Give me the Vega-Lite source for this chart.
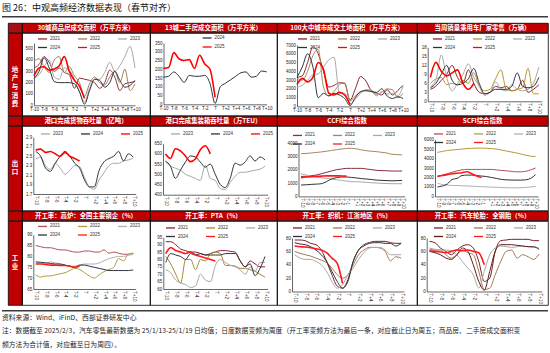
{
"$schema": "https://vega.github.io/schema/vega-lite/v6.json",
"padding": {"left": 2, "top": 3, "right": 0, "bottom": 0},
"config": {
 "view": {"stroke": null},
 "font": "Noto Sans CJK SC",
 "axis": {"grid": false, "ticks": false, "labelFontSize": 4.5, "labelFont": "Liberation Sans", "labelColor": "#222", "domainColor": "#000", "domainWidth": 0.6, "labelPadding": 1.5, "labelFlush": false, "labelOverlap": false, "labelBound": false},
 "legend": {"orient": "none", "direction": "horizontal", "symbolType": "stroke", "symbolSize": 81, "symbolStrokeWidth": 1.3, "labelFontSize": 4.5, "labelFont": "Liberation Sans", "labelColor": "#333", "labelOffset": 2, "columnPadding": 14, "rowPadding": -3.5, "padding": 0, "columns": 3},
 "line": {"interpolate": "monotone"}
},
"datasets": {
 "r1p1": [
{"s":"2021","t":-10,"v":330},{"s":"2021","t":-9,"v":360},{"s":"2021","t":-8,"v":430},{"s":"2021","t":-7,"v":380},{"s":"2021","t":-6,"v":300},{"s":"2021","t":-5,"v":330},{"s":"2021","t":-4,"v":290},{"s":"2021","t":-3,"v":270},{"s":"2021","t":-2,"v":150},{"s":"2021","t":-1,"v":240},{"s":"2021","t":0,"v":230},{"s":"2021","t":1,"v":220},{"s":"2021","t":2,"v":200},{"s":"2021","t":3,"v":150},{"s":"2021","t":4,"v":200},{"s":"2021","t":5,"v":310},{"s":"2021","t":6,"v":250},{"s":"2021","t":7,"v":130},{"s":"2021","t":8,"v":190},{"s":"2021","t":9,"v":200},{"s":"2021","t":10,"v":210},
{"s":"2022","t":-10,"v":390},{"s":"2022","t":-9,"v":410},{"s":"2022","t":-8,"v":340},{"s":"2022","t":-7,"v":290},{"s":"2022","t":-6,"v":400},{"s":"2022","t":-5,"v":430},{"s":"2022","t":-4,"v":290},{"s":"2022","t":-3,"v":340},{"s":"2022","t":-2,"v":260},{"s":"2022","t":-1,"v":200},{"s":"2022","t":0,"v":80},{"s":"2022","t":1,"v":190},{"s":"2022","t":2,"v":250},{"s":"2022","t":3,"v":200},{"s":"2022","t":4,"v":180},{"s":"2022","t":5,"v":250},{"s":"2022","t":6,"v":300},{"s":"2022","t":7,"v":200},{"s":"2022","t":8,"v":320},{"s":"2022","t":9,"v":130},{"s":"2022","t":10,"v":190},
{"s":"2023","t":-10,"v":240},{"s":"2023","t":-9,"v":270},{"s":"2023","t":-8,"v":340},{"s":"2023","t":-7,"v":400},{"s":"2023","t":-6,"v":250},{"s":"2023","t":-5,"v":230},{"s":"2023","t":-4,"v":330},{"s":"2023","t":-3,"v":310},{"s":"2023","t":-2,"v":230},{"s":"2023","t":-1,"v":120},{"s":"2023","t":0,"v":30},{"s":"2023","t":1,"v":150},{"s":"2023","t":2,"v":230},{"s":"2023","t":3,"v":230},{"s":"2023","t":4,"v":290},{"s":"2023","t":5,"v":380},{"s":"2023","t":6,"v":300},{"s":"2023","t":7,"v":350},{"s":"2023","t":8,"v":430},{"s":"2023","t":9,"v":520},{"s":"2023","t":10,"v":330},
{"s":"2024","t":-10,"v":235},{"s":"2024","t":-9,"v":300},{"s":"2024","t":-8,"v":420},{"s":"2024","t":-7,"v":330},{"s":"2024","t":-6,"v":210},{"s":"2024","t":-5,"v":200},{"s":"2024","t":-4,"v":200},{"s":"2024","t":-3,"v":200},{"s":"2024","t":-2,"v":190},{"s":"2024","t":-1,"v":120},{"s":"2024","t":0,"v":10},{"s":"2024","t":1,"v":130},{"s":"2024","t":2,"v":230},{"s":"2024","t":3,"v":220},{"s":"2024","t":4,"v":160},{"s":"2024","t":5,"v":200},{"s":"2024","t":6,"v":300},{"s":"2024","t":7,"v":220},{"s":"2024","t":8,"v":160},{"s":"2024","t":9,"v":175},{"s":"2024","t":10,"v":220},
{"s":"2025","t":-10,"v":260},{"s":"2025","t":-9,"v":330},{"s":"2025","t":-8,"v":340},{"s":"2025","t":-7,"v":310},{"s":"2025","t":-6,"v":320},{"s":"2025","t":-5,"v":350},{"s":"2025","t":-4,"v":430},{"s":"2025","t":-3,"v":300},{"s":"2025","t":-2,"v":220},{"s":"2025","t":-1,"v":170},{"s":"2025","t":0,"v":60}
 ],
 "r1p2": [
{"s":"2024","t":-10,"v":155},{"s":"2024","t":-9,"v":160},{"s":"2024","t":-8,"v":185},{"s":"2024","t":-7,"v":160},{"s":"2024","t":-6,"v":125},{"s":"2024","t":-5,"v":165},{"s":"2024","t":-4,"v":160},{"s":"2024","t":-3,"v":160},{"s":"2024","t":-2,"v":165},{"s":"2024","t":-1,"v":120},{"s":"2024","t":0,"v":5},{"s":"2024","t":1,"v":100},{"s":"2024","t":2,"v":120},{"s":"2024","t":3,"v":140},{"s":"2024","t":4,"v":160},{"s":"2024","t":5,"v":180},{"s":"2024","t":6,"v":185},{"s":"2024","t":7,"v":155},{"s":"2024","t":8,"v":160},{"s":"2024","t":9,"v":190},{"s":"2024","t":10,"v":185},
{"s":"2025","t":-10,"v":205},{"s":"2025","t":-9,"v":210},{"s":"2025","t":-8,"v":295},{"s":"2025","t":-7,"v":260},{"s":"2025","t":-6,"v":250},{"s":"2025","t":-5,"v":255},{"s":"2025","t":-4,"v":205},{"s":"2025","t":-3,"v":280},{"s":"2025","t":-2,"v":230},{"s":"2025","t":-1,"v":200},{"s":"2025","t":0,"v":40}
 ],
 "r1p3": [
{"s":"2021","t":-10,"v":3300},{"s":"2021","t":-9,"v":3500},{"s":"2021","t":-8,"v":5000},{"s":"2021","t":-7,"v":6800},{"s":"2021","t":-6,"v":6000},{"s":"2021","t":-5,"v":4000},{"s":"2021","t":-4,"v":2200},{"s":"2021","t":-3,"v":2400},{"s":"2021","t":-2,"v":2700},{"s":"2021","t":-1,"v":2600},{"s":"2021","t":0,"v":700},{"s":"2021","t":1,"v":2000},{"s":"2021","t":2,"v":3400},{"s":"2021","t":3,"v":2900},{"s":"2021","t":4,"v":1800},{"s":"2021","t":5,"v":1500},{"s":"2021","t":6,"v":1300},{"s":"2021","t":7,"v":1900},{"s":"2021","t":8,"v":1300},{"s":"2021","t":9,"v":1800},{"s":"2021","t":10,"v":2400},
{"s":"2022","t":-10,"v":3200},{"s":"2022","t":-9,"v":3000},{"s":"2022","t":-8,"v":4000},{"s":"2022","t":-7,"v":5800},{"s":"2022","t":-6,"v":6500},{"s":"2022","t":-5,"v":2200},{"s":"2022","t":-4,"v":1200},{"s":"2022","t":-3,"v":1700},{"s":"2022","t":-2,"v":2500},{"s":"2022","t":-1,"v":2700},{"s":"2022","t":0,"v":600},{"s":"2022","t":1,"v":1200},{"s":"2022","t":2,"v":1600},{"s":"2022","t":3,"v":1800},{"s":"2022","t":4,"v":1700},{"s":"2022","t":5,"v":1300},{"s":"2022","t":6,"v":1600},{"s":"2022","t":7,"v":2000},{"s":"2022","t":8,"v":1900},{"s":"2022","t":9,"v":1000},{"s":"2022","t":10,"v":1500},
{"s":"2023","t":-10,"v":2200},{"s":"2023","t":-9,"v":2400},{"s":"2023","t":-8,"v":3000},{"s":"2023","t":-7,"v":3600},{"s":"2023","t":-6,"v":3700},{"s":"2023","t":-5,"v":4500},{"s":"2023","t":-4,"v":5300},{"s":"2023","t":-3,"v":5600},{"s":"2023","t":-2,"v":1500},{"s":"2023","t":-1,"v":1500},{"s":"2023","t":0,"v":300},{"s":"2023","t":1,"v":800},{"s":"2023","t":2,"v":1500},{"s":"2023","t":3,"v":1900},{"s":"2023","t":4,"v":1900},{"s":"2023","t":5,"v":1200},{"s":"2023","t":6,"v":1700},{"s":"2023","t":7,"v":1400},{"s":"2023","t":8,"v":1500},{"s":"2023","t":9,"v":1200},{"s":"2023","t":10,"v":2300},
{"s":"2024","t":-10,"v":3300},{"s":"2024","t":-9,"v":4500},{"s":"2024","t":-8,"v":6000},{"s":"2024","t":-7,"v":4500},{"s":"2024","t":-6,"v":1000},{"s":"2024","t":-5,"v":1500},{"s":"2024","t":-4,"v":1200},{"s":"2024","t":-3,"v":1500},{"s":"2024","t":-2,"v":1300},{"s":"2024","t":-1,"v":900},{"s":"2024","t":0,"v":100},{"s":"2024","t":1,"v":1000},{"s":"2024","t":2,"v":1700},{"s":"2024","t":3,"v":1800},{"s":"2024","t":4,"v":1700},{"s":"2024","t":5,"v":1600},{"s":"2024","t":6,"v":2000},{"s":"2024","t":7,"v":1200},{"s":"2024","t":8,"v":900},{"s":"2024","t":9,"v":1100},{"s":"2024","t":10,"v":900},
{"s":"2025","t":-10,"v":2500},{"s":"2025","t":-9,"v":3200},{"s":"2025","t":-8,"v":2800},{"s":"2025","t":-7,"v":3300},{"s":"2025","t":-6,"v":5000},{"s":"2025","t":-5,"v":4200},{"s":"2025","t":-4,"v":1500},{"s":"2025","t":-3,"v":1300},{"s":"2025","t":-2,"v":1600},{"s":"2025","t":-1,"v":1300},{"s":"2025","t":0,"v":200}
 ],
 "r1p4": [
{"s":"2021","t":-10,"v":4},{"s":"2021","t":-9,"v":5},{"s":"2021","t":-8,"v":7},{"s":"2021","t":-7,"v":9},{"s":"2021","t":-6,"v":12},{"s":"2021","t":-5,"v":8},{"s":"2021","t":-4,"v":6},{"s":"2021","t":-3,"v":10.5},{"s":"2021","t":-2,"v":6},{"s":"2021","t":-1,"v":3},{"s":"2021","t":0,"v":2.5},{"s":"2021","t":1,"v":3},{"s":"2021","t":2,"v":5},{"s":"2021","t":3,"v":4.5},{"s":"2021","t":4,"v":5},{"s":"2021","t":5,"v":3.5},{"s":"2021","t":6,"v":4},{"s":"2021","t":7,"v":7},{"s":"2021","t":8,"v":3},{"s":"2021","t":9,"v":4},{"s":"2021","t":10,"v":5.5},
{"s":"2022","t":-10,"v":6},{"s":"2022","t":-9,"v":7.5},{"s":"2022","t":-8,"v":8},{"s":"2022","t":-7,"v":5.5},{"s":"2022","t":-6,"v":6},{"s":"2022","t":-5,"v":5.5},{"s":"2022","t":-4,"v":7},{"s":"2022","t":-3,"v":6},{"s":"2022","t":-2,"v":9.5},{"s":"2022","t":-1,"v":5},{"s":"2022","t":0,"v":3.5},{"s":"2022","t":1,"v":4},{"s":"2022","t":2,"v":7.5},{"s":"2022","t":3,"v":10.5},{"s":"2022","t":4,"v":4},{"s":"2022","t":5,"v":3.5},{"s":"2022","t":6,"v":4},{"s":"2022","t":7,"v":4.5},{"s":"2022","t":8,"v":11},{"s":"2022","t":9,"v":2.5},{"s":"2022","t":10,"v":2.5},
{"s":"2023","t":-10,"v":5},{"s":"2023","t":-9,"v":7},{"s":"2023","t":-8,"v":15.5},{"s":"2023","t":-7,"v":8},{"s":"2023","t":-6,"v":3.5},{"s":"2023","t":-5,"v":6},{"s":"2023","t":-4,"v":9},{"s":"2023","t":-3,"v":12.5},{"s":"2023","t":-2,"v":8},{"s":"2023","t":-1,"v":5},{"s":"2023","t":0,"v":2},{"s":"2023","t":1,"v":3},{"s":"2023","t":2,"v":6.5},{"s":"2023","t":3,"v":4},{"s":"2023","t":4,"v":3.5},{"s":"2023","t":5,"v":5.5},{"s":"2023","t":6,"v":4},{"s":"2023","t":7,"v":3.5},{"s":"2023","t":8,"v":4},{"s":"2023","t":9,"v":6},{"s":"2023","t":10,"v":11.5},
{"s":"2024","t":-10,"v":4.5},{"s":"2024","t":-9,"v":6},{"s":"2024","t":-8,"v":9},{"s":"2024","t":-7,"v":12},{"s":"2024","t":-6,"v":7},{"s":"2024","t":-5,"v":5.5},{"s":"2024","t":-4,"v":6},{"s":"2024","t":-3,"v":7.5},{"s":"2024","t":-2,"v":11},{"s":"2024","t":-1,"v":6},{"s":"2024","t":0,"v":2.5},{"s":"2024","t":1,"v":3},{"s":"2024","t":2,"v":4},{"s":"2024","t":3,"v":4},{"s":"2024","t":4,"v":4},{"s":"2024","t":5,"v":5},{"s":"2024","t":6,"v":9.5},{"s":"2024","t":7,"v":5},{"s":"2024","t":8,"v":4.5},{"s":"2024","t":9,"v":5},{"s":"2024","t":10,"v":8},
{"s":"2025","t":-10,"v":8},{"s":"2025","t":-9,"v":13},{"s":"2025","t":-8,"v":10},{"s":"2025","t":-7,"v":8.5},{"s":"2025","t":-6,"v":9.5},{"s":"2025","t":-5,"v":10.5},{"s":"2025","t":-4,"v":6},{"s":"2025","t":-3,"v":4},{"s":"2025","t":-2,"v":6}
 ],
 "r2p1": [
{"s":"2023","t":-10,"v":2.44},{"s":"2023","t":-9,"v":2.48},{"s":"2023","t":-8,"v":2.3},{"s":"2023","t":-7,"v":2.22},{"s":"2023","t":-6,"v":2.35},{"s":"2023","t":-5,"v":2.25},{"s":"2023","t":-4,"v":2.12},{"s":"2023","t":-3,"v":2.2},{"s":"2023","t":-2,"v":2.3},{"s":"2023","t":-1,"v":2.28},{"s":"2023","t":0,"v":2.05},{"s":"2023","t":1,"v":1.85},{"s":"2023","t":2,"v":1.8},{"s":"2023","t":3,"v":2.0},{"s":"2023","t":4,"v":2.15},{"s":"2023","t":5,"v":2.3},{"s":"2023","t":6,"v":2.35},{"s":"2023","t":7,"v":2.35},{"s":"2023","t":8,"v":2.4},{"s":"2023","t":9,"v":2.42},{"s":"2023","t":10,"v":2.46},
{"s":"2024","t":-10,"v":2.6},{"s":"2024","t":-9,"v":2.5},{"s":"2024","t":-8,"v":2.25},{"s":"2024","t":-7,"v":2.18},{"s":"2024","t":-6,"v":2.35},{"s":"2024","t":-5,"v":2.5},{"s":"2024","t":-4,"v":2.6},{"s":"2024","t":-3,"v":2.5},{"s":"2024","t":-2,"v":2.35},{"s":"2024","t":-1,"v":2.25},{"s":"2024","t":0,"v":2.0},{"s":"2024","t":1,"v":1.85},{"s":"2024","t":2,"v":1.85},{"s":"2024","t":3,"v":2.2},{"s":"2024","t":4,"v":2.38},{"s":"2024","t":5,"v":2.45},{"s":"2024","t":6,"v":2.5},{"s":"2024","t":7,"v":2.6},{"s":"2024","t":8,"v":2.4},{"s":"2024","t":9,"v":2.55},{"s":"2024","t":10,"v":2.48},
{"s":"2025","t":-10,"v":2.63},{"s":"2025","t":-9,"v":2.65},{"s":"2025","t":-8,"v":2.58},{"s":"2025","t":-7,"v":2.6},{"s":"2025","t":-6,"v":2.55},{"s":"2025","t":-5,"v":2.5},{"s":"2025","t":-4,"v":2.58},{"s":"2025","t":-3,"v":2.5},{"s":"2025","t":-2,"v":2.45},{"s":"2025","t":-1,"v":2.4}
 ],
 "r2p2": [
{"s":"2023","t":-10,"v":560},{"s":"2023","t":-9,"v":540},{"s":"2023","t":-8,"v":530},{"s":"2023","t":-7,"v":520},{"s":"2023","t":-6,"v":500},{"s":"2023","t":-5,"v":490},{"s":"2023","t":-4,"v":480},{"s":"2023","t":-3,"v":470},{"s":"2023","t":-2,"v":545},{"s":"2023","t":-1,"v":480},{"s":"2023","t":0,"v":470},{"s":"2023","t":1,"v":430},{"s":"2023","t":2,"v":425},{"s":"2023","t":3,"v":460},{"s":"2023","t":4,"v":490},{"s":"2023","t":5,"v":510},{"s":"2023","t":6,"v":510},{"s":"2023","t":7,"v":515},{"s":"2023","t":8,"v":520},{"s":"2023","t":9,"v":525},{"s":"2023","t":10,"v":540},
{"s":"2024","t":-10,"v":565},{"s":"2024","t":-9,"v":540},{"s":"2024","t":-8,"v":480},{"s":"2024","t":-7,"v":520},{"s":"2024","t":-6,"v":560},{"s":"2024","t":-5,"v":590},{"s":"2024","t":-4,"v":585},{"s":"2024","t":-3,"v":560},{"s":"2024","t":-2,"v":535},{"s":"2024","t":-1,"v":550},{"s":"2024","t":0,"v":500},{"s":"2024","t":1,"v":450},{"s":"2024","t":2,"v":435},{"s":"2024","t":3,"v":480},{"s":"2024","t":4,"v":555},{"s":"2024","t":5,"v":545},{"s":"2024","t":6,"v":560},{"s":"2024","t":7,"v":590},{"s":"2024","t":8,"v":565},{"s":"2024","t":9,"v":585},{"s":"2024","t":10,"v":570},
{"s":"2025","t":-10,"v":600},{"s":"2025","t":-9,"v":578},{"s":"2025","t":-8,"v":625},{"s":"2025","t":-7,"v":615},{"s":"2025","t":-6,"v":590},{"s":"2025","t":-5,"v":562},{"s":"2025","t":-4,"v":575},{"s":"2025","t":-3,"v":620},{"s":"2025","t":-2,"v":640},{"s":"2025","t":-1,"v":600}
 ],
 "r2p3": [
{"s":"2021","t":-10,"v":1500},{"s":"2021","t":-9,"v":1500},{"s":"2021","t":-8,"v":1550},{"s":"2021","t":-7,"v":1600},{"s":"2021","t":-6,"v":1700},{"s":"2021","t":-5,"v":1800},{"s":"2021","t":-4,"v":1900},{"s":"2021","t":-3,"v":2000},{"s":"2021","t":-2,"v":2050},{"s":"2021","t":-1,"v":2100},{"s":"2021","t":0,"v":2100},{"s":"2021","t":1,"v":2100},{"s":"2021","t":2,"v":2100},{"s":"2021","t":3,"v":2050},{"s":"2021","t":4,"v":2000},{"s":"2021","t":5,"v":1950},{"s":"2021","t":6,"v":1930},{"s":"2021","t":7,"v":1920},{"s":"2021","t":8,"v":1900},{"s":"2021","t":9,"v":1900},{"s":"2021","t":10,"v":1900},
{"s":"2022","t":-10,"v":3200},{"s":"2022","t":-9,"v":3220},{"s":"2022","t":-8,"v":3250},{"s":"2022","t":-7,"v":3290},{"s":"2022","t":-6,"v":3330},{"s":"2022","t":-5,"v":3380},{"s":"2022","t":-4,"v":3440},{"s":"2022","t":-3,"v":3500},{"s":"2022","t":-2,"v":3550},{"s":"2022","t":-1,"v":3590},{"s":"2022","t":0,"v":3600},{"s":"2022","t":1,"v":3560},{"s":"2022","t":2,"v":3480},{"s":"2022","t":3,"v":3420},{"s":"2022","t":4,"v":3380},{"s":"2022","t":5,"v":3350},{"s":"2022","t":6,"v":3300},{"s":"2022","t":7,"v":3250},{"s":"2022","t":8,"v":3150},{"s":"2022","t":9,"v":3130},{"s":"2022","t":10,"v":3100},
{"s":"2023","t":-10,"v":1700},{"s":"2023","t":-9,"v":1600},{"s":"2023","t":-8,"v":1500},{"s":"2023","t":-7,"v":1450},{"s":"2023","t":-6,"v":1400},{"s":"2023","t":-5,"v":1350},{"s":"2023","t":-4,"v":1300},{"s":"2023","t":-3,"v":1250},{"s":"2023","t":-2,"v":1200},{"s":"2023","t":-1,"v":1150},{"s":"2023","t":0,"v":1100},{"s":"2023","t":1,"v":1100},{"s":"2023","t":2,"v":1080},{"s":"2023","t":3,"v":1050},{"s":"2023","t":4,"v":1020},{"s":"2023","t":5,"v":1000},{"s":"2023","t":6,"v":980},{"s":"2023","t":7,"v":960},{"s":"2023","t":8,"v":950},{"s":"2023","t":9,"v":950},{"s":"2023","t":10,"v":950},
{"s":"2024","t":-10,"v":850},{"s":"2024","t":-9,"v":870},{"s":"2024","t":-8,"v":900},{"s":"2024","t":-7,"v":920},{"s":"2024","t":-6,"v":950},{"s":"2024","t":-5,"v":1100},{"s":"2024","t":-4,"v":1300},{"s":"2024","t":-3,"v":1400},{"s":"2024","t":-2,"v":1450},{"s":"2024","t":-1,"v":1450},{"s":"2024","t":0,"v":1420},{"s":"2024","t":1,"v":1380},{"s":"2024","t":2,"v":1330},{"s":"2024","t":3,"v":1300},{"s":"2024","t":4,"v":1260},{"s":"2024","t":5,"v":1220},{"s":"2024","t":6,"v":1200},{"s":"2024","t":7,"v":1180},{"s":"2024","t":8,"v":1170},{"s":"2024","t":9,"v":1180},{"s":"2024","t":10,"v":1200},
{"s":"2025","t":-10,"v":1400},{"s":"2025","t":-9,"v":1450},{"s":"2025","t":-8,"v":1480},{"s":"2025","t":-7,"v":1500},{"s":"2025","t":-6,"v":1520},{"s":"2025","t":-5,"v":1540},{"s":"2025","t":-4,"v":1540},{"s":"2025","t":-3,"v":1540},{"s":"2025","t":-2,"v":1530},{"s":"2025","t":-1,"v":1520}
 ],
 "r2p4": [
{"s":"2021","t":-10,"v":2150},{"s":"2021","t":-9,"v":2250},{"s":"2021","t":-8,"v":2400},{"s":"2021","t":-7,"v":2550},{"s":"2021","t":-6,"v":2700},{"s":"2021","t":-5,"v":2800},{"s":"2021","t":-4,"v":2850},{"s":"2021","t":-3,"v":2850},{"s":"2021","t":-2,"v":2850},{"s":"2021","t":-1,"v":2850},{"s":"2021","t":0,"v":2850},{"s":"2021","t":1,"v":2850},{"s":"2021","t":2,"v":2800},{"s":"2021","t":3,"v":2750},{"s":"2021","t":4,"v":2700},{"s":"2021","t":5,"v":2650},{"s":"2021","t":6,"v":2600},{"s":"2021","t":7,"v":2600},{"s":"2021","t":8,"v":2650},{"s":"2021","t":9,"v":2800},{"s":"2021","t":10,"v":3000},
{"s":"2022","t":-10,"v":4650},{"s":"2022","t":-9,"v":4750},{"s":"2022","t":-8,"v":4850},{"s":"2022","t":-7,"v":4900},{"s":"2022","t":-6,"v":4950},{"s":"2022","t":-5,"v":5000},{"s":"2022","t":-4,"v":5050},{"s":"2022","t":-3,"v":5080},{"s":"2022","t":-2,"v":5100},{"s":"2022","t":-1,"v":5100},{"s":"2022","t":0,"v":5080},{"s":"2022","t":1,"v":5050},{"s":"2022","t":2,"v":5000},{"s":"2022","t":3,"v":4900},{"s":"2022","t":4,"v":4800},{"s":"2022","t":5,"v":4700},{"s":"2022","t":6,"v":4600},{"s":"2022","t":7,"v":4480},{"s":"2022","t":8,"v":4350},{"s":"2022","t":9,"v":4250},{"s":"2022","t":10,"v":4200},
{"s":"2023","t":-10,"v":1400},{"s":"2023","t":-9,"v":1250},{"s":"2023","t":-8,"v":1200},{"s":"2023","t":-7,"v":1150},{"s":"2023","t":-6,"v":1150},{"s":"2023","t":-5,"v":1120},{"s":"2023","t":-4,"v":1100},{"s":"2023","t":-3,"v":1080},{"s":"2023","t":-2,"v":1050},{"s":"2023","t":-1,"v":1030},{"s":"2023","t":0,"v":1000},{"s":"2023","t":1,"v":980},{"s":"2023","t":2,"v":960},{"s":"2023","t":3,"v":940},{"s":"2023","t":4,"v":920},{"s":"2023","t":5,"v":910},{"s":"2023","t":6,"v":900},{"s":"2023","t":7,"v":920},{"s":"2023","t":8,"v":950},{"s":"2023","t":9,"v":1000},{"s":"2023","t":10,"v":1050},
{"s":"2024","t":-10,"v":1000},{"s":"2024","t":-9,"v":1100},{"s":"2024","t":-8,"v":1300},{"s":"2024","t":-7,"v":1800},{"s":"2024","t":-6,"v":1900},{"s":"2024","t":-5,"v":2200},{"s":"2024","t":-4,"v":2250},{"s":"2024","t":-3,"v":2250},{"s":"2024","t":-2,"v":2200},{"s":"2024","t":-1,"v":2150},{"s":"2024","t":0,"v":2100},{"s":"2024","t":1,"v":2000},{"s":"2024","t":2,"v":1900},{"s":"2024","t":3,"v":1800},{"s":"2024","t":4,"v":1750},{"s":"2024","t":5,"v":1730},{"s":"2024","t":6,"v":1720},{"s":"2024","t":7,"v":1720},{"s":"2024","t":8,"v":1750},{"s":"2024","t":9,"v":1900},{"s":"2024","t":10,"v":2300},
{"s":"2025","t":-10,"v":2100},{"s":"2025","t":-9,"v":2200},{"s":"2025","t":-8,"v":2300},{"s":"2025","t":-7,"v":2400},{"s":"2025","t":-6,"v":2450},{"s":"2025","t":-5,"v":2500},{"s":"2025","t":-4,"v":2600},{"s":"2025","t":-3,"v":2400},{"s":"2025","t":-2,"v":2150},{"s":"2025","t":-1,"v":2000}
 ],
 "r3p1": [
{"s":"2021","t":-10,"v":85},{"s":"2021","t":-9,"v":84.5},{"s":"2021","t":-8,"v":84},{"s":"2021","t":-7,"v":84},{"s":"2021","t":-6,"v":83.5},{"s":"2021","t":-5,"v":83},{"s":"2021","t":-4,"v":83},{"s":"2021","t":-3,"v":82.5},{"s":"2021","t":-2,"v":82},{"s":"2021","t":-1,"v":82},{"s":"2021","t":0,"v":82.5},{"s":"2021","t":1,"v":82.5},{"s":"2021","t":2,"v":82},{"s":"2021","t":3,"v":82},{"s":"2021","t":4,"v":83},{"s":"2021","t":5,"v":81.5},{"s":"2021","t":6,"v":82},{"s":"2021","t":7,"v":81.5},{"s":"2021","t":8,"v":81},{"s":"2021","t":9,"v":81},{"s":"2021","t":10,"v":81.5},
{"s":"2022","t":-10,"v":71.5},{"s":"2022","t":-9,"v":70.5},{"s":"2022","t":-8,"v":71},{"s":"2022","t":-7,"v":71},{"s":"2022","t":-6,"v":71.5},{"s":"2022","t":-5,"v":72},{"s":"2022","t":-4,"v":72.5},{"s":"2022","t":-3,"v":73.5},{"s":"2022","t":-2,"v":74.5},{"s":"2022","t":-1,"v":74},{"s":"2022","t":0,"v":72.5},{"s":"2022","t":1,"v":71},{"s":"2022","t":2,"v":70},{"s":"2022","t":3,"v":71.5},{"s":"2022","t":4,"v":73},{"s":"2022","t":5,"v":74},{"s":"2022","t":6,"v":75},{"s":"2022","t":7,"v":79},{"s":"2022","t":8,"v":78},{"s":"2022","t":9,"v":81},{"s":"2022","t":10,"v":81.5},
{"s":"2023","t":-10,"v":77},{"s":"2023","t":-9,"v":77},{"s":"2023","t":-8,"v":77},{"s":"2023","t":-7,"v":77.5},{"s":"2023","t":-6,"v":77},{"s":"2023","t":-5,"v":76.5},{"s":"2023","t":-4,"v":76},{"s":"2023","t":-3,"v":75.5},{"s":"2023","t":-2,"v":75.5},{"s":"2023","t":-1,"v":76},{"s":"2023","t":0,"v":76.5},{"s":"2023","t":1,"v":76.5},{"s":"2023","t":2,"v":76.5},{"s":"2023","t":3,"v":77},{"s":"2023","t":4,"v":78},{"s":"2023","t":5,"v":79},{"s":"2023","t":6,"v":79.5},{"s":"2023","t":7,"v":80},{"s":"2023","t":8,"v":80},{"s":"2023","t":9,"v":80.5},{"s":"2023","t":10,"v":81},
{"s":"2024","t":-10,"v":77.5},{"s":"2024","t":-9,"v":77.3},{"s":"2024","t":-8,"v":77},{"s":"2024","t":-7,"v":76.8},{"s":"2024","t":-6,"v":76.5},{"s":"2024","t":-5,"v":76.5},{"s":"2024","t":-4,"v":76},{"s":"2024","t":-3,"v":75.5},{"s":"2024","t":-2,"v":75},{"s":"2024","t":-1,"v":76},{"s":"2024","t":0,"v":76},{"s":"2024","t":1,"v":75.5},{"s":"2024","t":2,"v":75},{"s":"2024","t":3,"v":74.5},{"s":"2024","t":4,"v":74},{"s":"2024","t":5,"v":73.5},{"s":"2024","t":6,"v":73.5},{"s":"2024","t":7,"v":73.5},{"s":"2024","t":8,"v":73.5},{"s":"2024","t":9,"v":73.5},{"s":"2024","t":10,"v":73.8},
{"s":"2025","t":-10,"v":76.5},{"s":"2025","t":-9,"v":76.5},{"s":"2025","t":-8,"v":76.3},{"s":"2025","t":-7,"v":76},{"s":"2025","t":-6,"v":76},{"s":"2025","t":-5,"v":75.8},{"s":"2025","t":-4,"v":75.8},{"s":"2025","t":-3,"v":75.5},{"s":"2025","t":-2,"v":75},{"s":"2025","t":-1,"v":75.5}
 ],
 "r3p2": [
{"s":"2021","t":-10,"v":92},{"s":"2021","t":-9,"v":92},{"s":"2021","t":-8,"v":90},{"s":"2021","t":-7,"v":87},{"s":"2021","t":-6,"v":86},{"s":"2021","t":-5,"v":85},{"s":"2021","t":-4,"v":85},{"s":"2021","t":-3,"v":84},{"s":"2021","t":-2,"v":83},{"s":"2021","t":-1,"v":84},{"s":"2021","t":0,"v":85},{"s":"2021","t":1,"v":86},{"s":"2021","t":2,"v":86},{"s":"2021","t":3,"v":85.5},{"s":"2021","t":4,"v":85},{"s":"2021","t":5,"v":79},{"s":"2021","t":6,"v":75},{"s":"2021","t":7,"v":79},{"s":"2021","t":8,"v":77},{"s":"2021","t":9,"v":75},{"s":"2021","t":10,"v":75},
{"s":"2022","t":-10,"v":82},{"s":"2022","t":-9,"v":77},{"s":"2022","t":-8,"v":70},{"s":"2022","t":-7,"v":64},{"s":"2022","t":-6,"v":80},{"s":"2022","t":-5,"v":80},{"s":"2022","t":-4,"v":73},{"s":"2022","t":-3,"v":80},{"s":"2022","t":-2,"v":79},{"s":"2022","t":-1,"v":84},{"s":"2022","t":0,"v":85},{"s":"2022","t":1,"v":84},{"s":"2022","t":2,"v":76},{"s":"2022","t":3,"v":76},{"s":"2022","t":4,"v":75.5},{"s":"2022","t":5,"v":74},{"s":"2022","t":6,"v":74},{"s":"2022","t":7,"v":73},{"s":"2022","t":8,"v":72},{"s":"2022","t":9,"v":70},{"s":"2022","t":10,"v":68},
{"s":"2023","t":-10,"v":73},{"s":"2023","t":-9,"v":71},{"s":"2023","t":-8,"v":66},{"s":"2023","t":-7,"v":64},{"s":"2023","t":-6,"v":63},{"s":"2023","t":-5,"v":61},{"s":"2023","t":-4,"v":62},{"s":"2023","t":-3,"v":70},{"s":"2023","t":-2,"v":66},{"s":"2023","t":-1,"v":65},{"s":"2023","t":0,"v":76},{"s":"2023","t":1,"v":80},{"s":"2023","t":2,"v":78},{"s":"2023","t":3,"v":76},{"s":"2023","t":4,"v":75},{"s":"2023","t":5,"v":73},{"s":"2023","t":6,"v":70},{"s":"2023","t":7,"v":75},{"s":"2023","t":8,"v":72},{"s":"2023","t":9,"v":78},{"s":"2023","t":10,"v":78},
{"s":"2024","t":-10,"v":78},{"s":"2024","t":-9,"v":84},{"s":"2024","t":-8,"v":83},{"s":"2024","t":-7,"v":82},{"s":"2024","t":-6,"v":80},{"s":"2024","t":-5,"v":84},{"s":"2024","t":-4,"v":83},{"s":"2024","t":-3,"v":84},{"s":"2024","t":-2,"v":83},{"s":"2024","t":-1,"v":83},{"s":"2024","t":0,"v":83},{"s":"2024","t":1,"v":83},{"s":"2024","t":2,"v":84},{"s":"2024","t":3,"v":84},{"s":"2024","t":4,"v":84},{"s":"2024","t":5,"v":79},{"s":"2024","t":6,"v":75},{"s":"2024","t":7,"v":77},{"s":"2024","t":8,"v":69},{"s":"2024","t":9,"v":74},{"s":"2024","t":10,"v":82},
{"s":"2025","t":-10,"v":84},{"s":"2025","t":-9,"v":88},{"s":"2025","t":-8,"v":86},{"s":"2025","t":-7,"v":85},{"s":"2025","t":-6,"v":84},{"s":"2025","t":-5,"v":85},{"s":"2025","t":-4,"v":83},{"s":"2025","t":-3,"v":82},{"s":"2025","t":-2,"v":81},{"s":"2025","t":-1,"v":80},{"s":"2025","t":0,"v":79}
 ],
 "r3p3": [
{"s":"2021","t":-10,"v":77},{"s":"2021","t":-9,"v":77},{"s":"2021","t":-8,"v":76},{"s":"2021","t":-7,"v":72},{"s":"2021","t":-6,"v":70},{"s":"2021","t":-5,"v":62},{"s":"2021","t":-4,"v":45},{"s":"2021","t":-3,"v":25},{"s":"2021","t":-2,"v":8},{"s":"2021","t":-1,"v":5},{"s":"2021","t":0,"v":18},{"s":"2021","t":1,"v":45},{"s":"2021","t":2,"v":62},{"s":"2021","t":3,"v":70},{"s":"2021","t":4,"v":73},{"s":"2021","t":5,"v":75},{"s":"2021","t":6,"v":75},{"s":"2021","t":7,"v":75},{"s":"2021","t":8,"v":73},{"s":"2021","t":9,"v":72},{"s":"2021","t":10,"v":72},
{"s":"2022","t":-10,"v":60},{"s":"2022","t":-9,"v":57},{"s":"2022","t":-8,"v":55},{"s":"2022","t":-7,"v":53},{"s":"2022","t":-6,"v":50},{"s":"2022","t":-5,"v":47},{"s":"2022","t":-4,"v":43},{"s":"2022","t":-3,"v":35},{"s":"2022","t":-2,"v":25},{"s":"2022","t":-1,"v":20},{"s":"2022","t":0,"v":25},{"s":"2022","t":1,"v":40},{"s":"2022","t":2,"v":55},{"s":"2022","t":3,"v":62},{"s":"2022","t":4,"v":66},{"s":"2022","t":5,"v":66},{"s":"2022","t":6,"v":65},{"s":"2022","t":7,"v":60},{"s":"2022","t":8,"v":46},{"s":"2022","t":9,"v":52},{"s":"2022","t":10,"v":50},
{"s":"2023","t":-10,"v":55},{"s":"2023","t":-9,"v":50},{"s":"2023","t":-8,"v":48},{"s":"2023","t":-7,"v":48},{"s":"2023","t":-6,"v":45},{"s":"2023","t":-5,"v":40},{"s":"2023","t":-4,"v":30},{"s":"2023","t":-3,"v":15},{"s":"2023","t":-2,"v":5},{"s":"2023","t":-1,"v":10},{"s":"2023","t":0,"v":25},{"s":"2023","t":1,"v":35},{"s":"2023","t":2,"v":48},{"s":"2023","t":3,"v":58},{"s":"2023","t":4,"v":65},{"s":"2023","t":5,"v":66},{"s":"2023","t":6,"v":66},{"s":"2023","t":7,"v":62},{"s":"2023","t":8,"v":55},{"s":"2023","t":9,"v":55},{"s":"2023","t":10,"v":55},
{"s":"2024","t":-10,"v":73},{"s":"2024","t":-9,"v":71},{"s":"2024","t":-8,"v":70},{"s":"2024","t":-7,"v":67},{"s":"2024","t":-6,"v":62},{"s":"2024","t":-5,"v":55},{"s":"2024","t":-4,"v":45},{"s":"2024","t":-3,"v":30},{"s":"2024","t":-2,"v":15},{"s":"2024","t":-1,"v":5},{"s":"2024","t":0,"v":15},{"s":"2024","t":1,"v":45},{"s":"2024","t":2,"v":62},{"s":"2024","t":3,"v":68},{"s":"2024","t":4,"v":72},{"s":"2024","t":5,"v":73},{"s":"2024","t":6,"v":73},{"s":"2024","t":7,"v":72},{"s":"2024","t":8,"v":72},{"s":"2024","t":9,"v":68},{"s":"2024","t":10,"v":72},
{"s":"2025","t":-10,"v":68},{"s":"2025","t":-9,"v":67},{"s":"2025","t":-8,"v":66.5},{"s":"2025","t":-7,"v":65.5},{"s":"2025","t":-6,"v":64},{"s":"2025","t":-5,"v":62},{"s":"2025","t":-4,"v":58},{"s":"2025","t":-3,"v":50},{"s":"2025","t":-2,"v":42},{"s":"2025","t":-1,"v":12}
 ],
 "r3p4": [
{"s":"2021","t":-10,"v":75},{"s":"2021","t":-9,"v":73},{"s":"2021","t":-8,"v":65},{"s":"2021","t":-7,"v":60},{"s":"2021","t":-6,"v":55},{"s":"2021","t":-5,"v":62},{"s":"2021","t":-4,"v":68},{"s":"2021","t":-3,"v":70},{"s":"2021","t":-2,"v":65},{"s":"2021","t":-1,"v":45},{"s":"2021","t":0,"v":15},{"s":"2021","t":1,"v":20},{"s":"2021","t":2,"v":60},{"s":"2021","t":3,"v":76},{"s":"2021","t":4,"v":77},{"s":"2021","t":5,"v":78},{"s":"2021","t":6,"v":78},{"s":"2021","t":7,"v":78},{"s":"2021","t":8,"v":78},{"s":"2021","t":9,"v":76},{"s":"2021","t":10,"v":76},
{"s":"2022","t":-10,"v":63},{"s":"2022","t":-9,"v":62},{"s":"2022","t":-8,"v":62},{"s":"2022","t":-7,"v":55},{"s":"2022","t":-6,"v":50},{"s":"2022","t":-5,"v":55},{"s":"2022","t":-4,"v":62},{"s":"2022","t":-3,"v":58},{"s":"2022","t":-2,"v":55},{"s":"2022","t":-1,"v":30},{"s":"2022","t":0,"v":3},{"s":"2022","t":1,"v":5},{"s":"2022","t":2,"v":25},{"s":"2022","t":3,"v":45},{"s":"2022","t":4,"v":60},{"s":"2022","t":5,"v":62},{"s":"2022","t":6,"v":50},{"s":"2022","t":7,"v":55},{"s":"2022","t":8,"v":52},{"s":"2022","t":9,"v":48},{"s":"2022","t":10,"v":56},
{"s":"2023","t":-10,"v":65},{"s":"2023","t":-9,"v":63},{"s":"2023","t":-8,"v":62},{"s":"2023","t":-7,"v":62},{"s":"2023","t":-6,"v":60},{"s":"2023","t":-5,"v":55},{"s":"2023","t":-4,"v":45},{"s":"2023","t":-3,"v":35},{"s":"2023","t":-2,"v":25},{"s":"2023","t":-1,"v":5},{"s":"2023","t":0,"v":30},{"s":"2023","t":1,"v":55},{"s":"2023","t":2,"v":65},{"s":"2023","t":3,"v":68},{"s":"2023","t":4,"v":67},{"s":"2023","t":5,"v":66},{"s":"2023","t":6,"v":67},{"s":"2023","t":7,"v":68},{"s":"2023","t":8,"v":67},{"s":"2023","t":9,"v":66},{"s":"2023","t":10,"v":65},
{"s":"2024","t":-10,"v":60},{"s":"2024","t":-9,"v":58},{"s":"2024","t":-8,"v":55},{"s":"2024","t":-7,"v":50},{"s":"2024","t":-6,"v":48},{"s":"2024","t":-5,"v":55},{"s":"2024","t":-4,"v":65},{"s":"2024","t":-3,"v":60},{"s":"2024","t":-2,"v":40},{"s":"2024","t":-1,"v":15},{"s":"2024","t":0,"v":2},{"s":"2024","t":1,"v":30},{"s":"2024","t":2,"v":60},{"s":"2024","t":3,"v":70},{"s":"2024","t":4,"v":70},{"s":"2024","t":5,"v":70},{"s":"2024","t":6,"v":69},{"s":"2024","t":7,"v":68},{"s":"2024","t":8,"v":67},{"s":"2024","t":9,"v":67},{"s":"2024","t":10,"v":63},
{"s":"2025","t":-10,"v":61},{"s":"2025","t":-9,"v":60},{"s":"2025","t":-8,"v":59},{"s":"2025","t":-7,"v":58},{"s":"2025","t":-6,"v":60},{"s":"2025","t":-5,"v":62},{"s":"2025","t":-4,"v":61},{"s":"2025","t":-3,"v":62},{"s":"2025","t":-2,"v":60},{"s":"2025","t":-1,"v":58},{"s":"2025","t":0,"v":40}
 ]
},
"spacing": 0,
"resolve": {"scale": {"color": "independent"}, "legend": {"color": "independent"}},
"vconcat": [
 {"width": 546, "height": 1.4, "view": {"fill": "#3a3a3a", "stroke": null}, "data": {"values": []}, "mark": "point",
  "title": {"text": "图 26：中观高频经济数据表现（春节对齐）", "anchor": "start", "fontSize": 9, "fontWeight": "normal", "color": "#111", "offset": 3.5, "font": "Noto Sans CJK SC"}},
 {"width": 10, "height": 3.1, "data": {"values": []}, "mark": "point"},
 {"concat": [
   {"width": 6, "height": 9.5, "data": {"values": []}, "mark": "point"},
   {"width": 14, "height": 9.5, "view": {"fill": "#A80F14", "stroke": "#000", "strokeWidth": 0.8}, "data": {"values": []}, "mark": "point"},
   {"width": 128, "height": 9.5, "view": {"fill": "#C00000", "stroke": "#000", "strokeWidth": 0.8}, "data": {"values": [{"h": "30城商品房成交面积（万平方米）"}]}, "mark": {"type": "text", "color": "#fff", "fontSize": 6.4, "fontWeight": "bold"}, "encoding": {"text": {"field": "h"}}},
   {"width": 127, "height": 9.5, "view": {"fill": "#C00000", "stroke": "#000", "strokeWidth": 0.8}, "data": {"values": [{"h": "13城二手房成交面积（万平方米）"}]}, "mark": {"type": "text", "color": "#fff", "fontSize": 6.4, "fontWeight": "bold"}, "encoding": {"text": {"field": "h"}}},
   {"width": 140, "height": 9.5, "view": {"fill": "#C00000", "stroke": "#000", "strokeWidth": 0.8}, "data": {"values": [{"h": "100大中城市成交土地面积（万平方米）"}]}, "mark": {"type": "text", "color": "#fff", "fontSize": 6.4, "fontWeight": "bold"}, "encoding": {"text": {"field": "h"}}},
   {"width": 131, "height": 9.5, "view": {"fill": "#C00000", "stroke": "#000", "strokeWidth": 0.8}, "data": {"values": [{"h": "当周销量乘用车厂家零售（万辆）"}]}, "mark": {"type": "text", "color": "#fff", "fontSize": 6.4, "fontWeight": "bold"}, "encoding": {"text": {"field": "h"}}},

   {"width": 6, "height": 82.5, "data": {"values": []}, "mark": "point"},
   {"width": 14, "height": 82.5, "view": {"fill": "#C00000", "stroke": "#000", "strokeWidth": 0.8}, "data": {"values": [{"h": "地\n产\n与\n消\n费"}]}, "mark": {"type": "text", "color": "#fff", "fontSize": 6.5, "fontWeight": "bold", "lineBreak": "\n", "lineHeight": 8.7, "dy": -4.7}, "encoding": {"text": {"field": "h"}}},
   {"width": 128, "height": 82.5, "view": {"stroke": "#000", "strokeWidth": 0.8}, "data": {"name": "r1p1"}, "mark": {"type": "line", "interpolate": "monotone"},
    "encoding": {
     "x": {"field": "t", "type": "quantitative", "scale": {"domain": [-10, 10], "range": [12, 113], "nice": false, "zero": false}, "axis": {"title": null, "offset": -10.2, "values": [-10,-8,-6,-4,-2,0,2,4,6,8,10], "labelExpr": "datum.value==0?'T':(datum.value>0?'T+'+datum.value:'T'+datum.value)"}},
     "y": {"field": "v", "type": "quantitative", "scale": {"domain": [0, 550], "range": [72.3, 10], "nice": false, "zero": false}, "axis": {"title": null, "offset": -12, "values": [0,100,200,300,400,500], "format": "d"}},
     "color": {"field": "s", "type": "nominal", "scale": {"domain": ["2021","2022","2023","2024","2025"], "range": ["#8C2D3B","#9E7F5A","#A8A8A8","#2E333B","#FF0000"]}, "legend": {"title": null, "legendX": 15, "legendY": 0}},
     "strokeWidth": {"condition": {"test": "datum.s==='2025'", "value": 1.6}, "value": 1}}},
   {"width": 127, "height": 82.5, "view": {"stroke": "#000", "strokeWidth": 0.8}, "data": {"name": "r1p2"}, "mark": {"type": "line", "interpolate": "monotone"},
    "encoding": {
     "x": {"field": "t", "type": "quantitative", "scale": {"domain": [-10, 10], "range": [13.5, 116.7], "nice": false, "zero": false}, "axis": {"title": null, "offset": -11.2, "values": [-10,-8,-6,-4,-2,0,2,4,6,8,10], "labelExpr": "datum.value==0?'T':(datum.value>0?'T+'+datum.value:'T'+datum.value)"}},
     "y": {"field": "v", "type": "quantitative", "scale": {"domain": [0, 350], "range": [71.3, 10], "nice": false, "zero": false}, "axis": {"title": null, "offset": -13.5, "values": [0,50,100,150,200,250,300,350], "format": "d"}},
     "color": {"field": "s", "type": "nominal", "scale": {"domain": ["2024","2025"], "range": ["#2E333B","#FF0000"]}, "legend": {"title": null, "legendX": 51.6, "legendY": -0.5, "columns": 1}},
     "strokeWidth": {"condition": {"test": "datum.s==='2025'", "value": 1.6}, "value": 1}}},
   {"width": 140, "height": 82.5, "view": {"stroke": "#000", "strokeWidth": 0.8}, "data": {"name": "r1p3"}, "mark": {"type": "line", "interpolate": "monotone"},
    "encoding": {
     "x": {"field": "t", "type": "quantitative", "scale": {"domain": [-10, 10], "range": [20, 126], "nice": false, "zero": false}, "axis": {"title": null, "offset": -9.1, "values": [-10,-8,-6,-4,-2,0,2,4,6,8,10], "labelExpr": "datum.value==0?'T':(datum.value>0?'T+'+datum.value:'T'+datum.value)"}},
     "y": {"field": "v", "type": "quantitative", "scale": {"domain": [0, 7000], "range": [73.4, 12], "nice": false, "zero": false}, "axis": {"title": null, "offset": -20, "values": [0,1000,2000,3000,4000,5000,6000,7000], "format": "d"}},
     "color": {"field": "s", "type": "nominal", "scale": {"domain": ["2021","2022","2023","2024","2025"], "range": ["#8C1F2E","#A3895E","#A8A8A8","#2E333B","#FF0000"]}, "legend": {"title": null, "legendX": 20, "legendY": 0}},
     "strokeWidth": {"condition": {"test": "datum.s==='2025'", "value": 1.6}, "value": 1}}},
   {"width": 131, "height": 82.5, "view": {"stroke": "#000", "strokeWidth": 0.8}, "data": {"name": "r1p4"}, "mark": {"type": "line", "interpolate": "monotone"},
    "encoding": {
     "x": {"field": "t", "type": "quantitative", "scale": {"domain": [-10.5, 10.5], "range": [10.7, 124.6], "nice": false, "zero": false}, "axis": {"title": null, "offset": -14.2, "labelAngle": 90, "values": [-10,-8,-6,-4,-2,0,2,4,6,8,10], "labelExpr": "datum.value==0?'T':(datum.value>0?'T+'+datum.value:'T'+datum.value)"}},
     "y": {"field": "v", "type": "quantitative", "scale": {"domain": [0, 18], "range": [68.3, 14.4], "nice": false, "zero": false}, "axis": {"title": null, "offset": -10.7, "values": [0,3,6,9,12,15,18], "format": "d"}},
     "color": {"field": "s", "type": "nominal", "scale": {"domain": ["2021","2022","2023","2024","2025"], "range": ["#8C1F2E","#B5972E","#A8A8A8","#2E333B","#FF0000"]}, "legend": {"title": null, "legendX": 15, "legendY": 0}},
     "strokeWidth": {"condition": {"test": "datum.s==='2025'", "value": 1.6}, "value": 1}}},

   {"width": 6, "height": 9.5, "data": {"values": []}, "mark": "point"},
   {"width": 14, "height": 9.5, "view": {"fill": "#C00000", "stroke": "#000", "strokeWidth": 0.8}, "data": {"values": []}, "mark": "point"},
   {"width": 128, "height": 9.5, "view": {"fill": "#C00000", "stroke": "#000", "strokeWidth": 0.8}, "data": {"values": [{"h": "港口完成货物吞吐量（亿吨）"}]}, "mark": {"type": "text", "color": "#fff", "fontSize": 6.4, "fontWeight": "bold"}, "encoding": {"text": {"field": "h"}}},
   {"width": 127, "height": 9.5, "view": {"fill": "#C00000", "stroke": "#000", "strokeWidth": 0.8}, "data": {"values": [{"h": "港口完成集装箱吞吐量（万TEU）"}]}, "mark": {"type": "text", "color": "#fff", "fontSize": 6.4, "fontWeight": "bold"}, "encoding": {"text": {"field": "h"}}},
   {"width": 140, "height": 9.5, "view": {"fill": "#C00000", "stroke": "#000", "strokeWidth": 0.8}, "data": {"values": [{"h": "CCFI综合指数"}]}, "mark": {"type": "text", "color": "#fff", "fontSize": 6.4, "fontWeight": "bold"}, "encoding": {"text": {"field": "h"}}},
   {"width": 131, "height": 9.5, "view": {"fill": "#C00000", "stroke": "#000", "strokeWidth": 0.8}, "data": {"values": [{"h": "SCFI综合指数"}]}, "mark": {"type": "text", "color": "#fff", "fontSize": 6.4, "fontWeight": "bold"}, "encoding": {"text": {"field": "h"}}},

   {"width": 6, "height": 84.5, "data": {"values": []}, "mark": "point"},
   {"width": 14, "height": 84.5, "view": {"fill": "#C00000", "stroke": "#000", "strokeWidth": 0.8}, "data": {"values": [{"h": "出\n口"}]}, "mark": {"type": "text", "color": "#fff", "fontSize": 6.5, "fontWeight": "bold", "lineBreak": "\n", "lineHeight": 8.7, "dy": -4.7}, "encoding": {"text": {"field": "h"}}},
   {"width": 128, "height": 84.5, "view": {"stroke": "#000", "strokeWidth": 0.8}, "data": {"name": "r2p1"}, "mark": {"type": "line", "interpolate": "monotone"},
    "encoding": {
     "x": {"field": "t", "type": "quantitative", "scale": {"domain": [-10.5, 10.5], "range": [11.3, 113.7], "nice": false, "zero": false}, "axis": {"title": null, "offset": -16.5, "labelAngle": 90, "values": [-10,-8,-6,-4,-2,0,2,4,6,8,10], "labelExpr": "datum.value==0?'T':(datum.value>0?'T+'+datum.value:'T'+datum.value)"}},
     "y": {"field": "v", "type": "quantitative", "scale": {"domain": [1.7, 2.9], "range": [68, 11.3], "nice": false, "zero": false}, "axis": {"title": null, "offset": -11.3, "values": [1.7,1.9,2.1,2.3,2.5,2.7,2.9], "format": ".1f"}},
     "color": {"field": "s", "type": "nominal", "scale": {"domain": ["2023","2024","2025"], "range": ["#A8A8A8","#2E333B","#FF0000"]}, "legend": {"title": null, "legendX": 18, "legendY": 2}},
     "strokeWidth": {"condition": {"test": "datum.s==='2025'", "value": 1.6}, "value": 1}}},
   {"width": 127, "height": 84.5, "view": {"stroke": "#000", "strokeWidth": 0.8}, "data": {"name": "r2p2"}, "mark": {"type": "line", "interpolate": "monotone"},
    "encoding": {
     "x": {"field": "t", "type": "quantitative", "scale": {"domain": [-10.5, 10.5], "range": [13, 117.5], "nice": false, "zero": false}, "axis": {"title": null, "offset": -15.8, "labelAngle": 90, "values": [-10,-8,-6,-4,-2,0,2,4,6,8,10], "labelExpr": "datum.value==0?'T':(datum.value>0?'T+'+datum.value:'T'+datum.value)"}},
     "y": {"field": "v", "type": "quantitative", "scale": {"domain": [400, 650], "range": [68.7, 17.7], "nice": false, "zero": false}, "axis": {"title": null, "offset": -13, "values": [400,450,500,550,600,650], "format": "d"}},
     "color": {"field": "s", "type": "nominal", "scale": {"domain": ["2023","2024","2025"], "range": ["#A8A8A8","#2E333B","#FF0000"]}, "legend": {"title": null, "legendX": 20, "legendY": 2}},
     "strokeWidth": {"condition": {"test": "datum.s==='2025'", "value": 1.6}, "value": 1}}},
   {"width": 140, "height": 84.5, "view": {"stroke": "#000", "strokeWidth": 0.8}, "data": {"name": "r2p3"}, "mark": {"type": "line", "interpolate": "monotone"},
    "encoding": {
     "x": {"field": "t", "type": "quantitative", "scale": {"domain": [-10.5, 10.5], "range": [21.5, 127.7], "nice": false, "zero": false}, "axis": {"title": null, "offset": -14.1, "labelAngle": 90, "values": [-10,-9,-8,-7,-6,-5,-4,-3,-2,-1,0,1,2,3,4,5,6,7,8,9,10], "labelExpr": "datum.value==0?'T':(datum.value>0?'T+'+datum.value:'T'+datum.value)"}},
     "y": {"field": "v", "type": "quantitative", "scale": {"domain": [0, 4000], "range": [70.4, 17], "nice": false, "zero": false}, "axis": {"title": null, "offset": -21.5, "values": [0,1000,2000,3000,4000], "format": "d"}},
     "color": {"field": "s", "type": "nominal", "scale": {"domain": ["2021","2022","2023","2024","2025"], "range": ["#8C2D3B","#A3895E","#A8A8A8","#2E333B","#FF1A1A"]}, "legend": {"title": null, "legendX": 15, "legendY": 3.5}},
     "strokeWidth": {"condition": {"test": "datum.s==='2025'", "value": 1.6}, "value": 1}}},
   {"width": 131, "height": 84.5, "view": {"stroke": "#000", "strokeWidth": 0.8}, "data": {"name": "r2p4"}, "mark": {"type": "line", "interpolate": "monotone"},
    "encoding": {
     "x": {"field": "t", "type": "quantitative", "scale": {"domain": [-10.5, 10.5], "range": [18, 121], "nice": false, "zero": false}, "axis": {"title": null, "offset": -14.1, "labelAngle": 90, "values": [-10,-9,-8,-7,-6,-5,-4,-3,-2,-1,0,1,2,3,4,5,6,7,8,9,10], "labelExpr": "datum.value==0?'T':(datum.value>0?'T+'+datum.value:'T'+datum.value)"}},
     "y": {"field": "v", "type": "quantitative", "scale": {"domain": [0, 6000], "range": [70.4, 13.6], "nice": false, "zero": false}, "axis": {"title": null, "offset": -18, "values": [0,1000,2000,3000,4000,5000,6000], "format": "d"}},
     "color": {"field": "s", "type": "nominal", "scale": {"domain": ["2021","2022","2023","2024","2025"], "range": ["#B0505A","#B49A3C","#B0B0B0","#2E333B","#FF1A1A"]}, "legend": {"title": null, "legendX": 16, "legendY": 2}},
     "strokeWidth": {"condition": {"test": "datum.s==='2025'", "value": 1.6}, "value": 1}}},

   {"width": 6, "height": 9.5, "data": {"values": []}, "mark": "point"},
   {"width": 14, "height": 9.5, "view": {"fill": "#C00000", "stroke": "#000", "strokeWidth": 0.8}, "data": {"values": []}, "mark": "point"},
   {"width": 128, "height": 9.5, "view": {"fill": "#C00000", "stroke": "#000", "strokeWidth": 0.8}, "data": {"values": [{"h": "开工率：高炉：全国主要钢企（%）"}]}, "mark": {"type": "text", "color": "#fff", "fontSize": 6.4, "fontWeight": "bold"}, "encoding": {"text": {"field": "h"}}},
   {"width": 127, "height": 9.5, "view": {"fill": "#C00000", "stroke": "#000", "strokeWidth": 0.8}, "data": {"values": [{"h": "开工率：PTA（%）"}]}, "mark": {"type": "text", "color": "#fff", "fontSize": 6.4, "fontWeight": "bold"}, "encoding": {"text": {"field": "h"}}},
   {"width": 140, "height": 9.5, "view": {"fill": "#C00000", "stroke": "#000", "strokeWidth": 0.8}, "data": {"values": [{"h": "开工率：织机：江浙地区（%）"}]}, "mark": {"type": "text", "color": "#fff", "fontSize": 6.4, "fontWeight": "bold"}, "encoding": {"text": {"field": "h"}}},
   {"width": 131, "height": 9.5, "view": {"fill": "#C00000", "stroke": "#000", "strokeWidth": 0.8}, "data": {"values": [{"h": "开工率：汽车轮胎：全钢胎（%）"}]}, "mark": {"type": "text", "color": "#fff", "fontSize": 6.4, "fontWeight": "bold"}, "encoding": {"text": {"field": "h"}}},

   {"width": 6, "height": 84, "data": {"values": []}, "mark": "point"},
   {"width": 14, "height": 84, "view": {"fill": "#C00000", "stroke": "#000", "strokeWidth": 0.8}, "data": {"values": [{"h": "工\n业"}]}, "mark": {"type": "text", "color": "#fff", "fontSize": 6.5, "fontWeight": "bold", "lineBreak": "\n", "lineHeight": 8.7, "dy": -4.7}, "encoding": {"text": {"field": "h"}}},
   {"width": 128, "height": 84, "view": {"stroke": "#000", "strokeWidth": 0.8}, "data": {"name": "r3p1"}, "mark": {"type": "line", "interpolate": "monotone"},
    "encoding": {
     "x": {"field": "t", "type": "quantitative", "scale": {"domain": [-10.5, 10.5], "range": [11.3, 113.7], "nice": false, "zero": false}, "axis": {"title": null, "offset": -16, "labelAngle": 90, "values": [-10,-8,-6,-4,-2,0,2,4,6,8,10], "labelExpr": "datum.value==0?'T':(datum.value>0?'T+'+datum.value:'T'+datum.value)"}},
     "y": {"field": "v", "type": "quantitative", "scale": {"domain": [65, 90], "range": [68, 13.7], "nice": false, "zero": false}, "axis": {"title": null, "offset": -11.3, "values": [65,70,75,80,85,90], "format": "d"}},
     "color": {"field": "s", "type": "nominal", "scale": {"domain": ["2021","2022","2023","2024","2025"], "range": ["#B0505A","#B49A3C","#B0B0B0","#2E333B","#FF1A1A"]}, "legend": {"title": null, "legendX": 15, "legendY": -0.5}},
     "strokeWidth": {"condition": {"test": "datum.s==='2025'", "value": 1.6}, "value": 1}}},
   {"width": 127, "height": 84, "view": {"stroke": "#000", "strokeWidth": 0.8}, "data": {"name": "r3p2"}, "mark": {"type": "line", "interpolate": "monotone"},
    "encoding": {
     "x": {"field": "t", "type": "quantitative", "scale": {"domain": [-10.5, 10.5], "range": [13.3, 117.5], "nice": false, "zero": false}, "axis": {"title": null, "offset": -16, "labelAngle": 90, "values": [-10,-8,-6,-4,-2,0,2,4,6,8,10], "labelExpr": "datum.value==0?'T':(datum.value>0?'T+'+datum.value:'T'+datum.value)"}},
     "y": {"field": "v", "type": "quantitative", "scale": {"domain": [60, 95], "range": [68, 16.3], "nice": false, "zero": false}, "axis": {"title": null, "offset": -13.3, "values": [60,65,70,75,80,85,90,95], "format": "d"}},
     "color": {"field": "s", "type": "nominal", "scale": {"domain": ["2021","2022","2023","2024","2025"], "range": ["#8C1F2E","#A8882C","#A8A8A8","#2E333B","#FF1A1A"]}, "legend": {"title": null, "legendX": 15, "legendY": 1}},
     "strokeWidth": {"condition": {"test": "datum.s==='2025'", "value": 1.6}, "value": 1}}},
   {"width": 140, "height": 84, "view": {"stroke": "#000", "strokeWidth": 0.8}, "data": {"name": "r3p3"}, "mark": {"type": "line", "interpolate": "monotone"},
    "encoding": {
     "x": {"field": "t", "type": "quantitative", "scale": {"domain": [-10.5, 10.5], "range": [15, 126.8], "nice": false, "zero": false}, "axis": {"title": null, "offset": -13.5, "labelAngle": 90, "values": [-10,-8,-6,-4,-2,0,2,4,6,8,10], "labelExpr": "datum.value==0?'T':(datum.value>0?'T+'+datum.value:'T'+datum.value)"}},
     "y": {"field": "v", "type": "quantitative", "scale": {"domain": [0, 80], "range": [70.5, 17], "nice": false, "zero": false}, "axis": {"title": null, "offset": -15, "values": [0,20,40,60,80], "format": "d"}},
     "color": {"field": "s", "type": "nominal", "scale": {"domain": ["2021","2022","2023","2024","2025"], "range": ["#7A1F28","#A07A55","#A8A8A8","#2E333B","#FF1A1A"]}, "legend": {"title": null, "legendX": 15, "legendY": 1}},
     "strokeWidth": {"condition": {"test": "datum.s==='2025'", "value": 1.6}, "value": 1}}},
   {"width": 131, "height": 84, "view": {"stroke": "#000", "strokeWidth": 0.8}, "data": {"name": "r3p4"}, "mark": {"type": "line", "interpolate": "monotone"},
    "encoding": {
     "x": {"field": "t", "type": "quantitative", "scale": {"domain": [-10.5, 10.5], "range": [9.7, 124.8], "nice": false, "zero": false}, "axis": {"title": null, "offset": -13.5, "labelAngle": 90, "values": [-10,-8,-6,-4,-2,0,2,4,6,8,10], "labelExpr": "datum.value==0?'T':(datum.value>0?'T+'+datum.value:'T'+datum.value)"}},
     "y": {"field": "v", "type": "quantitative", "scale": {"domain": [0, 80], "range": [70.5, 17], "nice": false, "zero": false}, "axis": {"title": null, "offset": -9.7, "values": [0,20,40,60,80], "format": "d"}},
     "color": {"field": "s", "type": "nominal", "scale": {"domain": ["2021","2022","2023","2024","2025"], "range": ["#7A1F28","#A07A55","#A8A8A8","#5A1A1A","#FF1A1A"]}, "legend": {"title": null, "legendX": 16, "legendY": 1}},
     "strokeWidth": {"condition": {"test": "datum.s==='2025'", "value": 1.6}, "value": 1}}}
  ], "columns": 6, "align": "each", "spacing": 0, "bounds": "flush", "resolve": {"scale": {"color": "independent"}, "legend": {"color": "independent"}}},
 {"width": 10, "height": 3.6, "data": {"values": []}, "mark": "point"},
 {"width": 546, "height": 1.4, "view": {"fill": "#3a3a3a", "stroke": null}, "data": {"values": []}, "mark": "point",
  "title": {"text": "资料来源：Wind、iFinD、西部证券研发中心", "subtitle": ["注：数据截至 2025/2/3，汽车零售最新数据为 25/1/13-25/1/19 日均值；日度数据变频为周度（开工率变频方法为最后一条，对应截止日为周五；商品房、二手房成交面积变", "频方法为合计值，对应截至日为周四）。"], "orient": "bottom", "anchor": "start", "fontSize": 6.8, "subtitleFontSize": 6.8, "fontWeight": "normal", "color": "#222", "subtitleColor": "#222", "offset": 3.5, "subtitlePadding": 6.3, "subtitleLineHeight": 13.5, "font": "Noto Sans CJK SC", "subtitleFont": "Noto Sans CJK SC"}}
]
}
